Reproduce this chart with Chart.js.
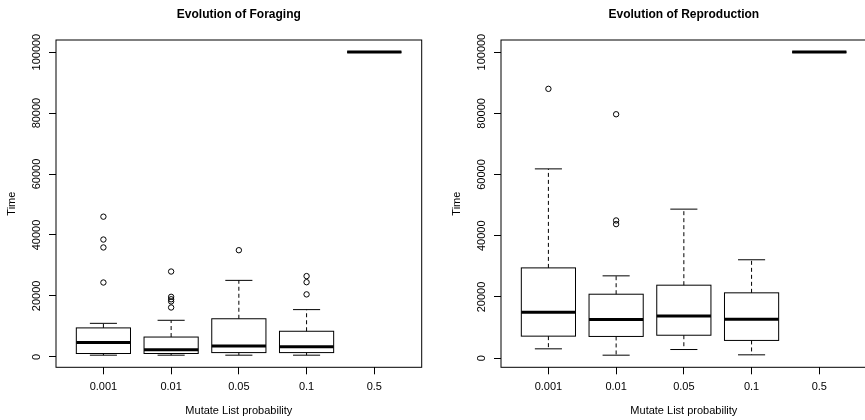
<!DOCTYPE html>
<html><head><meta charset="utf-8">
<script src="https://cdn.jsdelivr.net/npm/chart.js@4.4.1/dist/chart.umd.min.js"></script>
<style>
html,body{margin:0;padding:0;background:#fff;width:865px;height:420px;overflow:hidden;position:relative}
canvas{position:absolute;top:0}
#c1{left:0}
#c2{left:445px}
</style></head><body>
<canvas id="c1" width="432" height="420"></canvas>
<canvas id="c2" width="432" height="420"></canvas>
<script>
const categories = ['0.001', '0.01', '0.05', '0.1', '0.5'];
const yTicks = [0, 20000, 40000, 60000, 80000, 100000];

// Evolution of Foraging
const forLow  = [550, 550, 550, 550, 100000];
const forQ1   = [1100, 1100, 1400, 1400, 100000];
const forMed  = [4700, 2300, 3600, 3300, 100000];
const forQ3   = [9500, 6500, 12500, 8400, 100000];
const forHigh = [11000, 12000, 25100, 15500, 100000];
const forOut  = [[46000, 38500, 35900, 24400], [28000, 19700, 18900, 18200, 16200], [35000], [26500, 24500, 20500], []];

// Evolution of Reproduction
const repLow  = [3050, 980, 2830, 1090, 100000];
const repQ1   = [7200, 7100, 7500, 5800, 100000];
const repMed  = [15000, 12650, 13800, 12750, 100000];
const repQ3   = [29500, 20900, 23850, 21350, 100000];
const repHigh = [61850, 26900, 48700, 32150, 100000];
const repOut  = [[88000], [79700, 45000, 43800], [], [], []];

const FONT = '"Liberation Sans", Arial, Helvetica, sans-serif';

function makeChart(id, title, low, q1, med, q3, high, outs) {
  const all = low.concat(high, ...outs);
  const dmin = Math.min(...all), dmax = Math.max(...all);
  const ext = (dmax - dmin) * 0.04;
  const points = outs.flatMap((arr, i) => arr.map(v => ({x: i + 1, y: v})));

  const boxPlugin = {
    id: 'boxes',
    afterDatasetsDraw(chart) {
      const {ctx, chartArea: a, scales: {x, y}} = chart;
      ctx.save();
      ctx.strokeStyle = '#000';
      ctx.lineWidth = 1;
      const line = (x1, y1, x2, y2) => { ctx.beginPath(); ctx.moveTo(x1, y1); ctx.lineTo(x2, y2); ctx.stroke(); };
      q1.forEach((_, i) => {
        const c = i + 1;
        const xl = x.getPixelForValue(c - 0.4), xr = x.getPixelForValue(c + 0.4), xm = x.getPixelForValue(c);
        const cl = x.getPixelForValue(c - 0.2), cr = x.getPixelForValue(c + 0.2);
        const yLo = y.getPixelForValue(low[i]), yQ1 = y.getPixelForValue(q1[i]);
        const yMd = y.getPixelForValue(med[i]), yQ3 = y.getPixelForValue(q3[i]);
        const yHi = y.getPixelForValue(high[i]);
        ctx.lineWidth = 1;
        ctx.setLineDash([4, 3]);
        line(xm, yQ3, xm, yHi);
        line(xm, yQ1, xm, yLo);
        ctx.setLineDash([]);
        line(cl, yHi, cr, yHi);
        line(cl, yLo, cr, yLo);
        ctx.strokeRect(xl, yQ3, xr - xl, yQ1 - yQ3);
        ctx.lineWidth = 3;
        ctx.lineCap = 'butt';
        line(xl, yMd, xr, yMd);
      });
      ctx.lineWidth = 1;
      ctx.strokeRect(a.left, a.top, a.right - a.left, a.bottom - a.top);
      // rotated y tick labels (R style)
      ctx.fillStyle = '#000';
      ctx.font = '11px ' + FONT;
      ctx.textAlign = 'center';
      ctx.textBaseline = 'middle';
      yTicks.forEach(v => {
        ctx.save();
        ctx.translate(a.left - 19.3, y.getPixelForValue(v));
        ctx.rotate(-Math.PI / 2);
        ctx.fillText(String(v), 0, 0);
        ctx.restore();
      });
      ctx.restore();
    }
  };

  return new Chart(document.getElementById(id), {
    type: 'scatter',
    data: {datasets: [{
      data: points,
      pointStyle: 'circle',
      pointRadius: 2.7,
      pointHoverRadius: 2.7,
      pointBorderWidth: 1,
      borderColor: '#000',
      backgroundColor: 'rgba(0,0,0,0)'
    }]},
    options: {
      responsive: false,
      animation: false,
      events: [],
      layout: {padding: {left: 0, right: 10.3, top: 0, bottom: 0}},
      plugins: {
        legend: {display: false},
        tooltip: {enabled: false},
        title: {
          display: true, text: title, fullSize: false, color: '#000',
          font: {family: FONT, size: 12, weight: 'bold', lineHeight: 1.2},
          padding: {top: 7.8, bottom: 17.8}
        }
      },
      scales: {
        x: {
          type: 'linear', min: 0.3, max: 5.7,
          afterBuildTicks: s => { s.ticks = categories.map((c, i) => ({value: i + 1})); },
          afterFit: s => { s.height = 420 - 367.3; },
          ticks: {
            callback: v => categories[Math.round(v) - 1],
            color: '#000', font: {family: FONT, size: 11}, padding: 5.8,
            autoSkip: false, maxRotation: 0, minRotation: 0
          },
          grid: {drawOnChartArea: false, drawTicks: true, tickLength: 7, color: '#000', lineWidth: 1},
          border: {display: false},
          title: {display: true, text: 'Mutate List probability', color: '#000',
                  font: {family: FONT, size: 11}, padding: {top: 0, bottom: 2.4}}
        },
        y: {
          type: 'linear', min: dmin - ext, max: dmax + ext,
          afterBuildTicks: s => { s.ticks = yTicks.map(v => ({value: v})); },
          afterFit: s => { s.width = 56; },
          ticks: {display: false},
          grid: {drawOnChartArea: false, drawTicks: true, tickLength: 7, color: '#000', lineWidth: 1},
          border: {display: false},
          title: {display: true, text: 'Time', color: '#000',
                  font: {family: FONT, size: 11}, padding: {top: 5.1, bottom: 0}}
        }
      }
    },
    plugins: [boxPlugin]
  });
}

makeChart('c1', 'Evolution of Foraging', forLow, forQ1, forMed, forQ3, forHigh, forOut);
makeChart('c2', 'Evolution of Reproduction', repLow, repQ1, repMed, repQ3, repHigh, repOut);
</script>
</body></html>
